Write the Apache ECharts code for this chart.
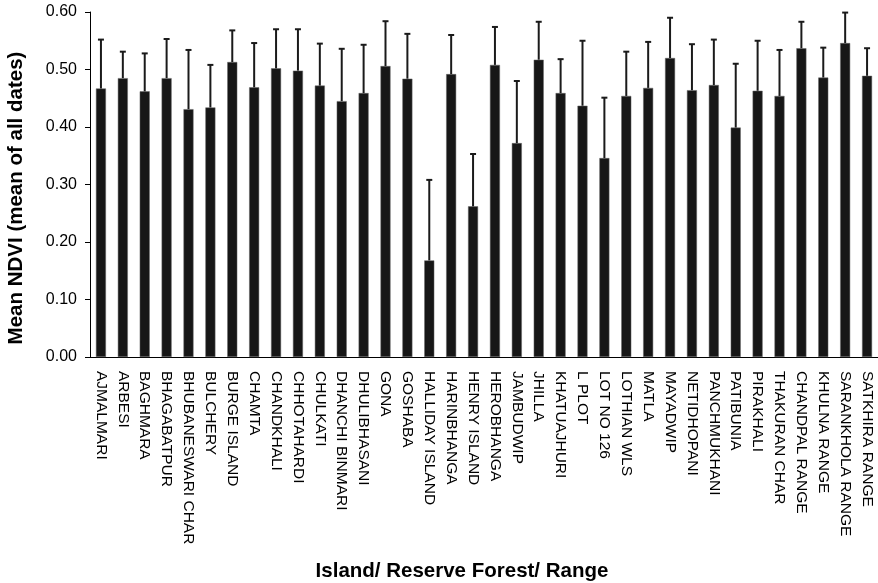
<!DOCTYPE html>
<html>
<head>
<meta charset="utf-8">
<script src="https://cdn.jsdelivr.net/npm/echarts@6/dist/echarts.min.js"></script>
<style>
  html, body { margin: 0; padding: 0; background: #fff; }
  #chart { width: 878px; height: 583px; }
</style>
</head>
<body>
<div id="chart"></div>
<script>
// island / reserve forest / range names, left to right
const categories = [
  'AJMALMARI', 'ARBESI', 'BAGHMARA', 'BHAGABATPUR', 'BHUBANESWARI CHAR', 'BULCHERY',
  'BURGE ISLAND', 'CHAMTA', 'CHANDKHALI', 'CHHOTAHARDI', 'CHULKATI', 'DHANCHI BINMARI',
  'DHULIBHASANI', 'GONA', 'GOSHABA', 'HALLIDAY ISLAND', 'HARINBHANGA', 'HENRY ISLAND',
  'HEROBHANGA', 'JAMBUDWIP', 'JHILLA', 'KHATUAJHURI', 'L PLOT', 'LOT NO 126',
  'LOTHIAN WLS', 'MATLA', 'MAYADWIP', 'NETIDHOPANI', 'PANCHMUKHANI', 'PATIBUNIA',
  'PIRAKHALI', 'THAKURAN CHAR', 'CHANDPAL RANGE', 'KHULNA RANGE', 'SARANKHOLA RANGE', 'SATKHIRA RANGE'
];

// mean NDVI (bar heights)
const meanNdvi = [
  0.467, 0.485, 0.462, 0.485, 0.431, 0.434,
  0.513, 0.469, 0.502, 0.498, 0.472, 0.445,
  0.459, 0.506, 0.484, 0.168, 0.492, 0.262,
  0.508, 0.372, 0.517, 0.459, 0.437, 0.346,
  0.454, 0.468, 0.520, 0.464, 0.473, 0.399,
  0.463, 0.454, 0.537, 0.486, 0.546, 0.489
];

// top of the error bar (mean + sd)
const errorTop = [
  0.552, 0.531, 0.528, 0.553, 0.534, 0.508,
  0.568, 0.546, 0.570, 0.570, 0.545, 0.536,
  0.543, 0.584, 0.562, 0.308, 0.560, 0.353,
  0.574, 0.480, 0.583, 0.518, 0.550, 0.451,
  0.531, 0.548, 0.590, 0.544, 0.552, 0.510,
  0.550, 0.534, 0.583, 0.538, 0.599, 0.537
];

const yTicks = ['0.00', '0.10', '0.20', '0.30', '0.40', '0.50', '0.60'];

const FONT = '"Liberation Sans", Arial, sans-serif';
const chart = echarts.init(document.getElementById('chart'));

const option = {
  animation: false,
  backgroundColor: '#fff',
  grid: { left: 90, right: 0, top: 12, bottom: 226 },
  xAxis: {
    type: 'category',
    data: categories,
    axisLine: { lineStyle: { color: '#000', width: 1 } },
    axisTick: { length: 5, lineStyle: { color: '#000' } },
    axisLabel: {
      rotate: -90,
      interval: 0,
      margin: 14,
      color: '#000',
      fontFamily: FONT,
      fontSize: 15.5
    }
  },
  yAxis: {
    type: 'value',
    min: 0,
    max: 0.6,
    interval: 0.1,
    splitLine: { show: false },
    axisLine: { show: true, lineStyle: { color: '#000', width: 1 } },
    axisTick: { show: true, length: 5, lineStyle: { color: '#000' } },
    axisLabel: {
      margin: 13,
      color: '#000',
      fontFamily: FONT,
      fontSize: 16,
      formatter: (v) => yTicks[Math.round(v * 10)]
    }
  },
  graphic: [
    {
      type: 'text',
      x: 16, y: 198,
      rotation: Math.PI / 2,
      style: {
        text: 'Mean NDVI (mean of all dates)',
        font: 'bold 20.5px ' + FONT,
        fill: '#000',
        align: 'center',
        verticalAlign: 'middle'
      }
    },
    {
      type: 'text',
      x: 462, y: 571,
      style: {
        text: 'Island/ Reserve Forest/ Range',
        font: 'bold 20.5px ' + FONT,
        fill: '#000',
        align: 'center',
        verticalAlign: 'middle'
      }
    }
  ],
  series: [
    {
      name: 'Mean NDVI',
      type: 'bar',
      barWidth: 10,
      data: meanNdvi,
      itemStyle: { color: '#171717', borderColor: '#666', borderWidth: 0.5 }
    },
    {
      name: 'SD',
      type: 'custom',
      data: categories.map((c, i) => [i, meanNdvi[i], errorTop[i]]),
      renderItem: function (params, api) {
        const base = api.coord([api.value(0), api.value(1)]);
        const top = api.coord([api.value(0), api.value(2)]);
        return {
          type: 'group',
          children: [
            {
              type: 'line',
              shape: { x1: top[0], y1: top[1], x2: base[0], y2: base[1] },
              style: { stroke: '#1a1a1a', lineWidth: 2 }
            },
            {
              type: 'line',
              shape: { x1: top[0] - 3, y1: top[1], x2: top[0] + 3, y2: top[1] },
              style: { stroke: '#1a1a1a', lineWidth: 2 }
            }
          ]
        };
      },
      z: 3
    }
  ]
};

chart.setOption(option);
</script>
</body>
</html>
